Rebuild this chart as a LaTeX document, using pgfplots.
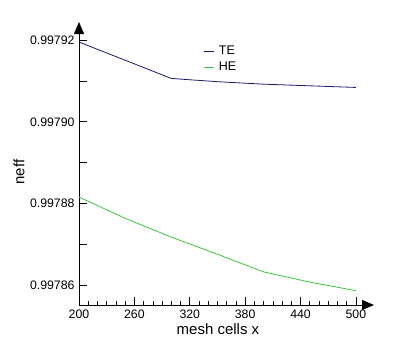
\documentclass[border=0pt]{standalone}
\usepackage{pgfplots}
\pgfplotsset{compat=1.18}
\usetikzlibrary{arrows.meta}
\usepackage{fontspec}
\setmainfont{Liberation Sans}
\definecolor{teblue}{RGB}{25,25,115}
\definecolor{hegreen}{RGB}{60,200,60}
\begin{document}
\begin{tikzpicture}
\useasboundingbox (0,0) rectangle (396pt,356pt);
\begin{axis}[
  at={(79pt,51pt)}, anchor=south west,
  scale only axis, width=295pt, height=283pt,
  xmin=200, xmax=519.6,
  ymin=0.9978552, ymax=0.9979244,
  axis lines=left,
  axis line style={line width=0.8pt,-{Triangle[length=12pt,width=10pt]}},
  tick align=inside,
  xtick={200,260,...,500},
  minor x tick num=5,
  ytick={0.99786,0.99787,0.99788,0.99789,0.99790,0.99791,0.99792},
  yticklabels={0.99786,,0.99788,,0.99790,,0.99792},
  major tick length=8pt, minor tick length=4pt,
  tick style={black, line width=0.6pt},
  /pgf/number format/assume math mode=true,
  ticklabel style={font=\fontsize{12.3}{14}\selectfont},
  xticklabel style={yshift=-1pt},
  yticklabel style={xshift=-1pt},
  xlabel={mesh cells x}, ylabel={neff},
  label style={font=\fontsize{15}{17}\selectfont},
  xlabel style={at={(axis description cs:0.471,-0.085)},anchor=center},
  ylabel style={at={(axis description cs:-0.203,0.47)},anchor=center},
  legend style={draw=none, fill=none, at={(axis description cs:0.41,0.93)}, anchor=north west,
    font=\fontsize{12.5}{14}\selectfont, row sep=2pt},
  legend cell align=left,
  legend image code/.code={\draw[#1] (0pt,0pt) -- (10pt,0pt); \path (13pt,0pt);},
]
\addplot[teblue, line width=0.8pt] coordinates {
(200,0.9979195) (300,0.9979106) (350,0.9979098) (400,0.9979092) (450,0.9979088) (500,0.9979084)};
\addlegendentry{TE}
\addplot[hegreen, line width=0.8pt] coordinates {
(200,0.9978816) (250,0.9978764) (300,0.9978718) (350,0.9978676) (400,0.9978633) (450,0.9978608) (500,0.9978587)};
\addlegendentry{HE}
\end{axis}
\end{tikzpicture}
\end{document}
